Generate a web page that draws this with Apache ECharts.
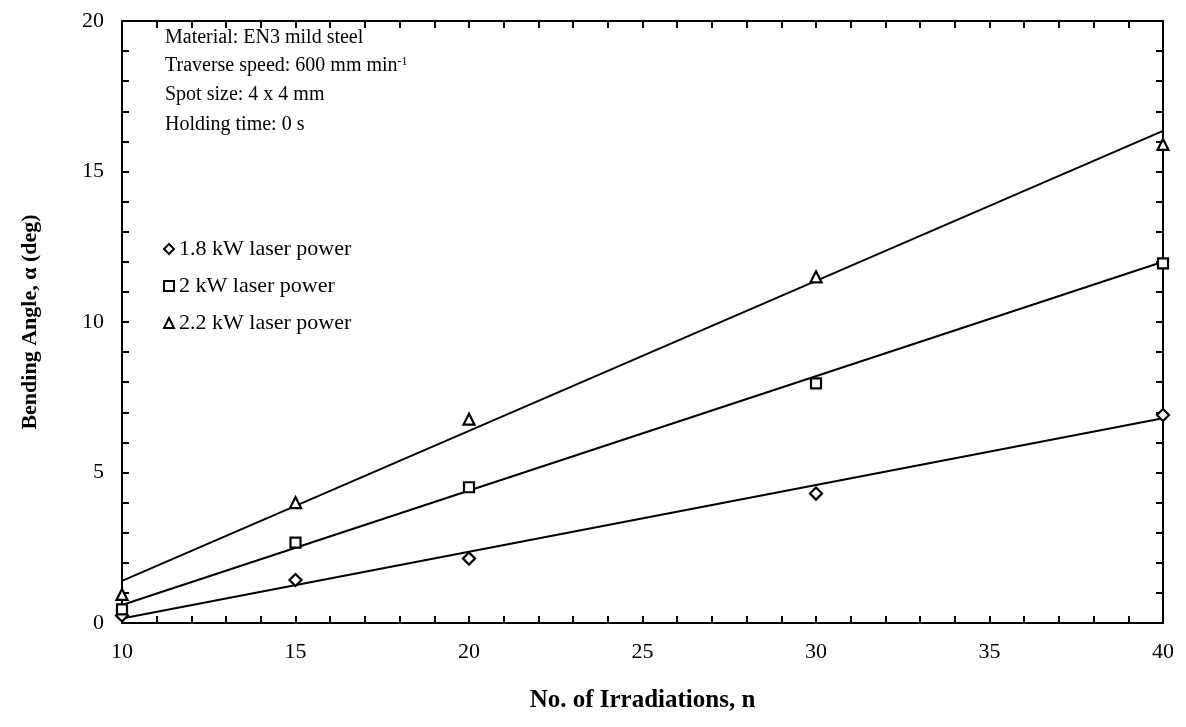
<!DOCTYPE html>
<html>
<head>
<meta charset="utf-8">
<script src="https://cdn.jsdelivr.net/npm/echarts@6/dist/echarts.min.js"></script>
<style>
html,body{margin:0;padding:0;background:#fff;}
#chart{width:1186px;height:727px;}
</style>
</head>
<body>
<div id="chart"></div>
<script>
// Data
var irradiations = [10, 15, 20, 30, 40];
var seriesNames = ['1.8 kW laser power', '2 kW laser power', '2.2 kW laser power'];
var angle18 = [0.25, 1.43, 2.14, 4.3, 6.91];
var angle20 = [0.45, 2.67, 4.51, 7.96, 11.95];
var angle22 = [0.95, 4.0, 6.77, 11.5, 15.9];
// Linear fit lines (endpoints at n = 10 and n = 40)
var fitX = [10, 40];
var fit18 = [0.15, 6.8];
var fit20 = [0.6, 12.0];
var fit22 = [1.4, 16.35];
var xTicks = [10, 15, 20, 25, 30, 35, 40];
var yTicks = [0, 5, 10, 15, 20];
var notes = ['Material: EN3 mild steel', 'Traverse speed: 600 mm min', 'Spot size: 4 x 4 mm', 'Holding time: 0 s'];

var FONT = '"Liberation Serif", "Times New Roman", serif';
var chart = echarts.init(document.getElementById('chart'));

function pairs(xs, ys) { return xs.map(function (x, i) { return [x, ys[i]]; }); }

var symbols = ['diamond', 'rect', 'triangle'];
var sizes = [12, 10, 11];
var pts = [angle18, angle20, angle22];
var fits = [fit18, fit20, fit22];

var series = [];
fits.forEach(function (f, i) {
  series.push({
    type: 'line', data: pairs(fitX, f), showSymbol: false, silent: true,
    lineStyle: { color: '#000', width: 2 }, z: 2
  });
});
pts.forEach(function (p, i) {
  series.push({
    name: seriesNames[i], type: 'scatter', data: pairs(irradiations, p),
    symbol: symbols[i], symbolSize: sizes[i],
    itemStyle: { color: '#fff', borderColor: '#000', borderWidth: 2.2, opacity: 1 }, z: 5
  });
});

function axisCommon() {
  return {
    min: 10, max: 40, interval: 5,
    axisLine: { onZero: false, lineStyle: { color: '#000', width: 2 } },
    axisTick: { inside: true, length: 7, lineStyle: { color: '#000', width: 2 } },
    minorTick: { show: true, splitNumber: 5, length: 7, lineStyle: { color: '#000', width: 2 } },
    splitLine: { show: false }
  };
}

var xBottom = axisCommon();
xBottom.type = 'value';
xBottom.position = 'bottom';
xBottom.axisLabel = { color: '#000', fontFamily: FONT, fontSize: 22, margin: 18 };
xBottom.name = 'No. of Irradiations, n';
xBottom.nameLocation = 'middle';
xBottom.nameGap = 65;
xBottom.nameTextStyle = { color: '#000', fontFamily: FONT, fontSize: 25, fontWeight: 'bold' };

var xTop = axisCommon();
xTop.type = 'value';
xTop.position = 'top';
xTop.axisLabel = { show: false };

var yLeft = axisCommon();
yLeft.type = 'value'; yLeft.min = 0; yLeft.max = 20; yLeft.interval = 5;
yLeft.position = 'left';
yLeft.axisLabel = { color: '#000', fontFamily: FONT, fontSize: 22, margin: 18 };
yLeft.name = 'Bending Angle, \u03b1 (deg)';
yLeft.nameLocation = 'middle';
yLeft.nameGap = 81;
yLeft.nameTextStyle = { color: '#000', fontFamily: FONT, fontSize: 22, fontWeight: 'bold' };

var yRight = axisCommon();
yRight.type = 'value'; yRight.min = 0; yRight.max = 20; yRight.interval = 5;
yRight.position = 'right';
yRight.axisLabel = { show: false };

var noteY = [38, 66, 95, 125];
var graphics = notes.map(function (t, i) {
  var style = { x: 165, y: noteY[i], text: t, fill: '#000', font: '20px ' + FONT, textVerticalAlign: 'middle' };
  if (i === 1) {
    style.text = '{a|' + t + '}{s|-1}';
    style.rich = {
      a: { fontFamily: FONT, fontSize: 20, color: '#000' },
      s: { fontFamily: FONT, fontSize: 12, color: '#000', verticalAlign: 'top', padding: [0, 0, 9, 0] }
    };
  }
  return { type: 'text', style: style, z: 10 };
});

chart.setOption({
  animation: false,
  backgroundColor: '#fff',
  grid: { left: 122, right: 23, top: 21, bottom: 104, containLabel: false },
  xAxis: [xBottom, xTop],
  yAxis: [yLeft, yRight],
  legend: {
    data: seriesNames, orient: 'vertical', left: 158, top: 233, itemGap: 15,
    itemWidth: 10, itemHeight: 10, inactiveColor: '#000',
    textStyle: { color: '#000', fontFamily: FONT, fontSize: 22 }
  },
  graphic: graphics,
  series: series
});
</script>
</body>
</html>
